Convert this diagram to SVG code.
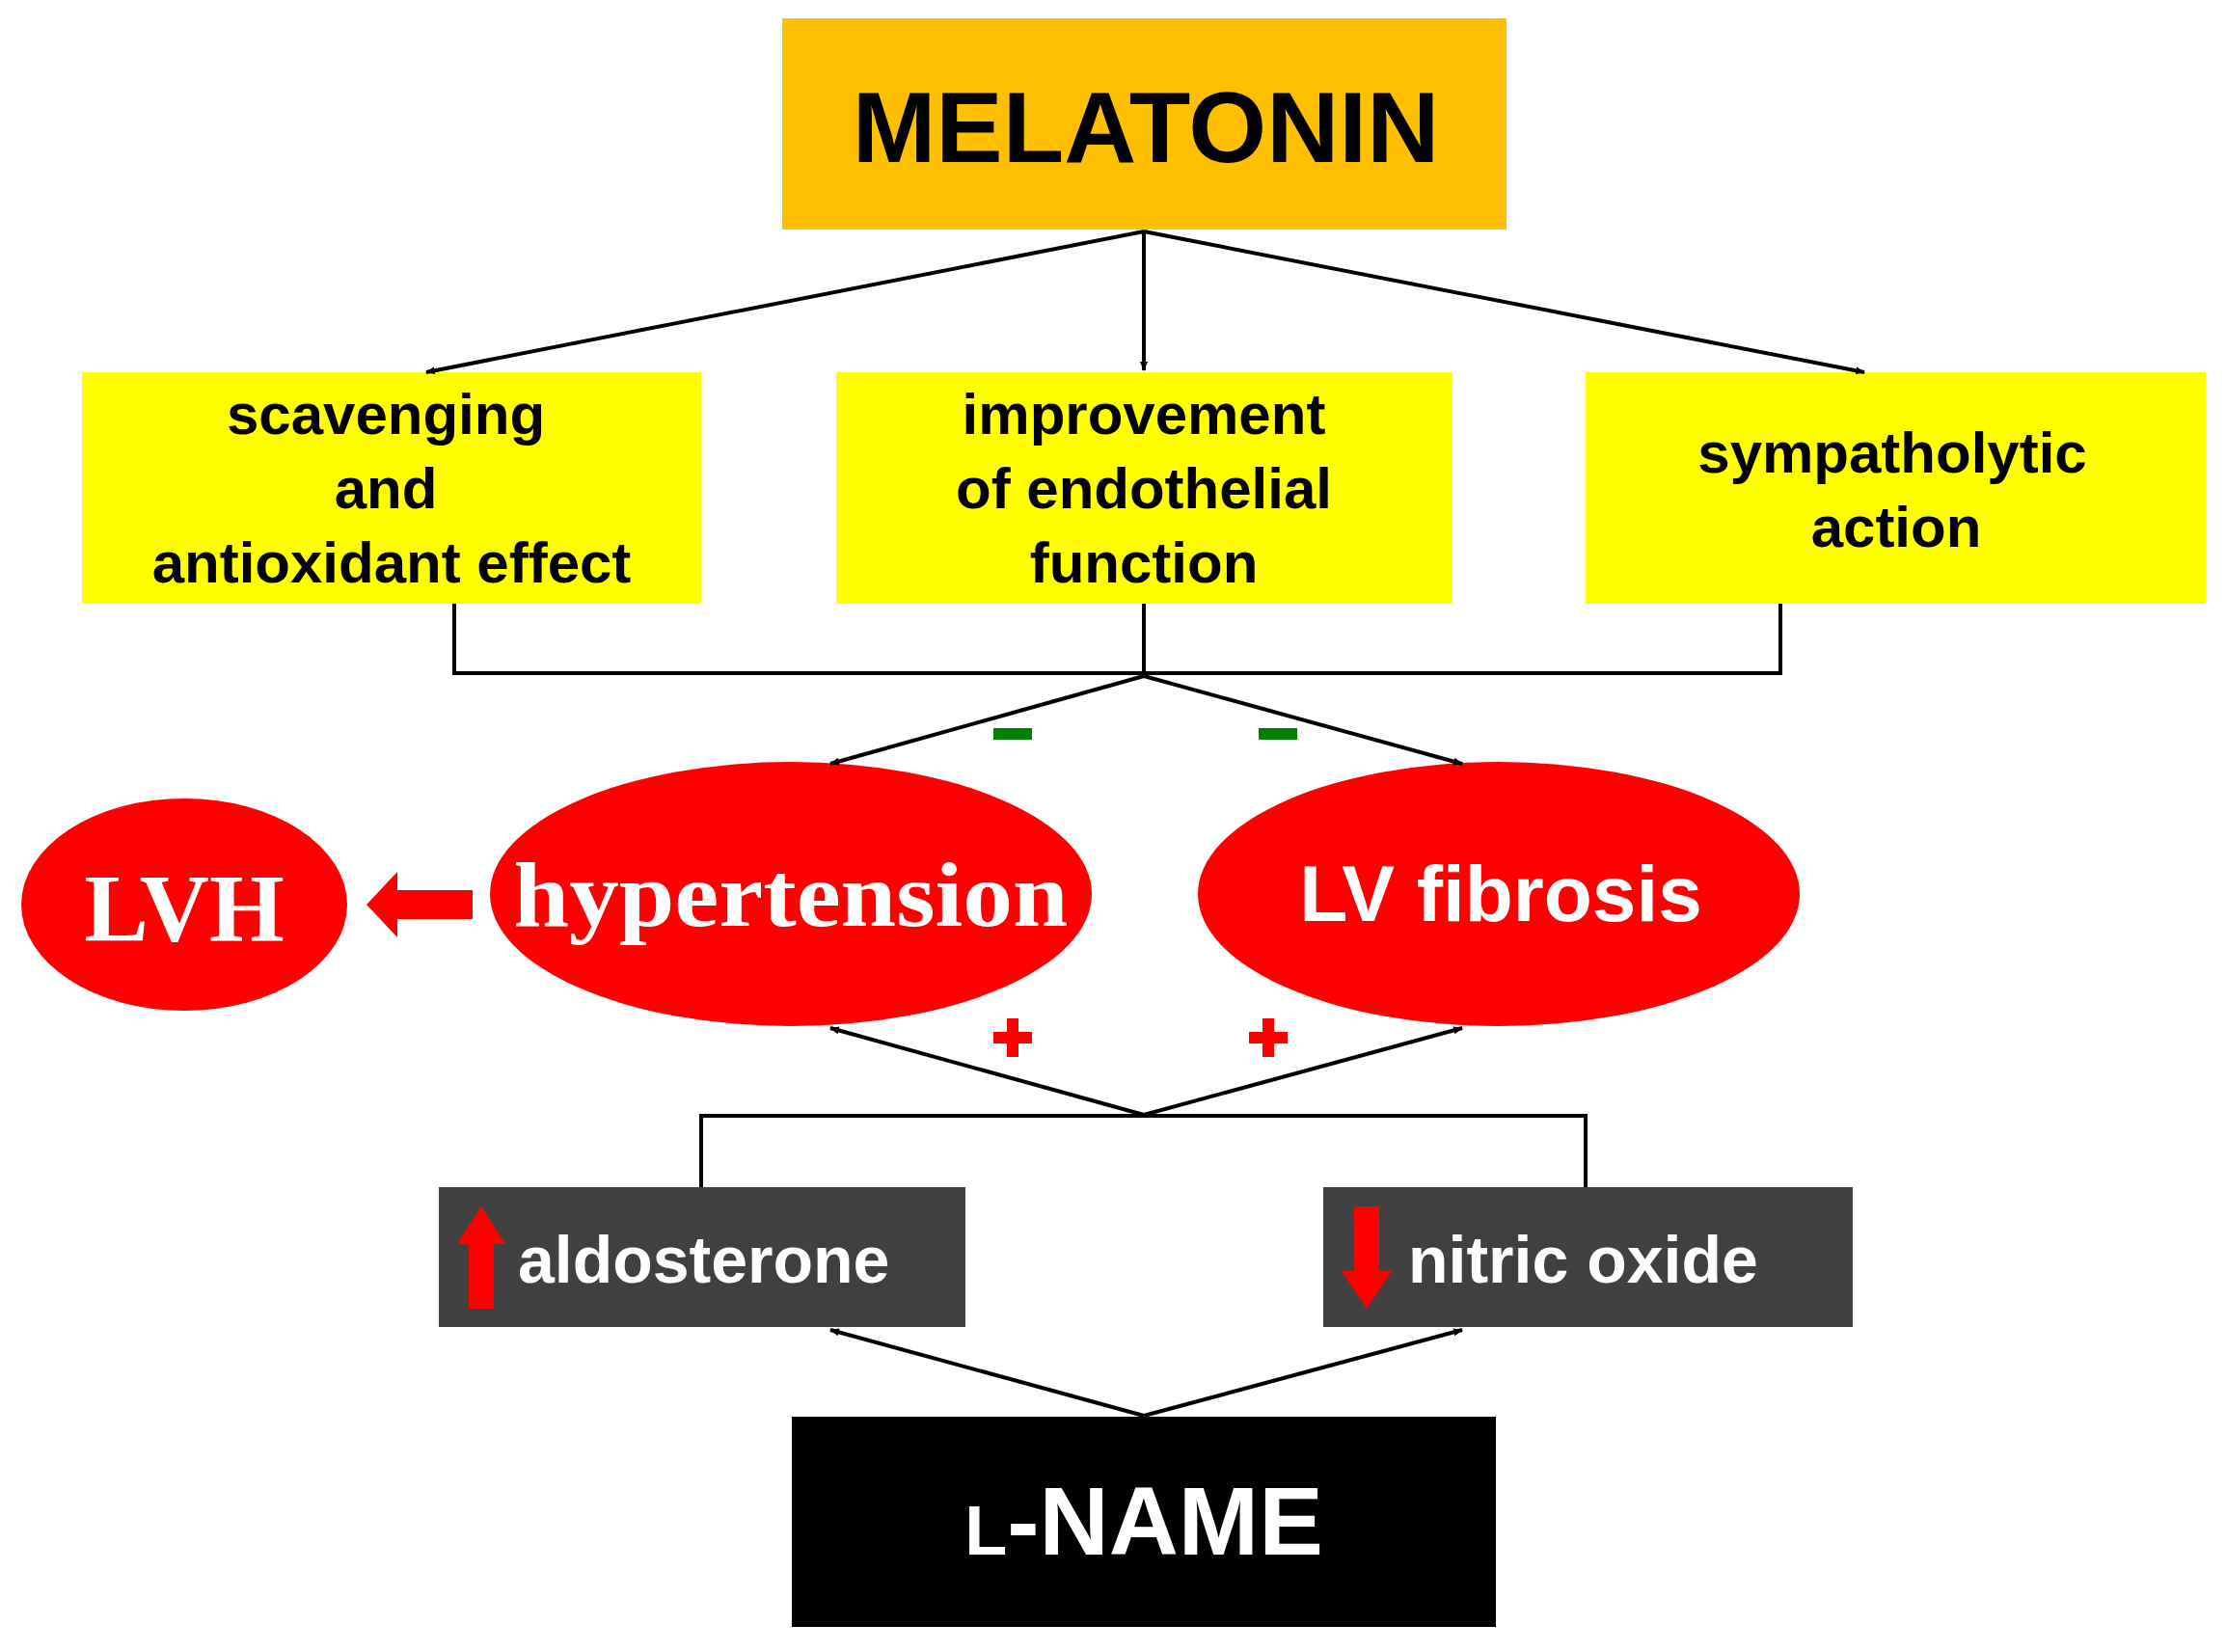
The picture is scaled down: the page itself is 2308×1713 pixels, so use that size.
<svg xmlns="http://www.w3.org/2000/svg" width="2308" height="1713" viewBox="0 0 2308 1713">
<style>
.ln{stroke:#000;stroke-width:4;fill:none}
.y{fill:#ffff00}
.t{font-family:"Liberation Sans",Arial,sans-serif;font-weight:bold;text-anchor:middle}
.bt{font-size:60px;fill:#000}
.ser{font-family:"Liberation Serif","Times New Roman",serif;font-weight:bold;fill:#fff;text-anchor:middle}
.gt{font-family:"Liberation Sans",Arial,sans-serif;font-weight:bold;fill:#fff;font-size:68px}
</style>
<defs>
<marker id="ah" markerWidth="10" markerHeight="8" refX="9" refY="4" orient="auto" markerUnits="userSpaceOnUse"><path d="M0,0L10,4L0,8z" fill="#000"/></marker>
<marker id="ah2" markerWidth="14" markerHeight="12" refX="13" refY="6" orient="auto" markerUnits="userSpaceOnUse"><path d="M0,0L14,6L0,12z" fill="#000"/></marker>
</defs>
<rect width="2308" height="1713" fill="#fff"/>
<g id="melatonin"><rect x="811" y="19" width="751" height="219" fill="#ffc000"/><text x="1188" y="168" class="t" font-size="104">MELATONIN</text></g>
<g id="scavenging"><rect x="85" y="386" width="642" height="240" class="y"/><text class="t bt" x="400"><tspan x="400" y="450">scavenging</tspan><tspan x="400" y="527">and</tspan><tspan x="406" y="604">antioxidant effect</tspan></text></g>
<g id="endothelial"><rect x="867" y="386" width="639" height="240" class="y"/><text class="t bt"><tspan x="1186" y="450">improvement</tspan><tspan x="1186" y="527">of endothelial</tspan><tspan x="1186" y="604">function</tspan></text></g>
<g id="sympatholytic"><rect x="1644" y="386" width="643" height="240" class="y"/><text class="t bt"><tspan x="1962" y="490">sympatholytic</tspan><tspan x="1966" y="567">action</tspan></text></g>
<g id="lvh"><ellipse cx="191" cy="938" rx="169" ry="110" fill="#ff0000"/><text x="191" y="975" class="ser" font-size="100">LVH</text></g>
<g id="hypertension"><ellipse cx="820" cy="927" rx="312" ry="137" fill="#ff0000"/><text x="820" y="960" class="ser" font-size="96" textLength="575" lengthAdjust="spacingAndGlyphs">hypertension</text></g>
<g id="lvfibrosis"><ellipse cx="1554" cy="927" rx="312" ry="137" fill="#ff0000"/><text x="1556" y="955" class="t" fill="#fff" font-size="82">LV fibrosis</text></g>
<g id="aldosterone"><rect x="455" y="1231" width="546" height="145" fill="#404040"/><path d="M486,1357V1290H474L499,1251L524,1290H512V1357z" fill="#ff0000"/><text x="537" y="1330" class="gt">aldosterone</text></g>
<g id="nitricoxide"><rect x="1372" y="1231" width="549" height="145" fill="#404040"/><path d="M1404,1251H1430V1318H1443L1417,1357L1391,1318H1404z" fill="#ff0000"/><text x="1460" y="1330" class="gt">nitric oxide</text></g>
<g id="lname"><rect x="821" y="1469" width="730" height="218" fill="#000"/><text x="1186" y="1612" class="t" fill="#fff" font-size="100"><tspan font-size="72">L</tspan>-NAME</text></g>
<g id="connectors">
<line x1="1186" y1="240" x2="442" y2="386" class="ln" marker-end="url(#ah)"/>
<line x1="1186" y1="240" x2="1186" y2="384" class="ln" marker-end="url(#ah)"/>
<line x1="1186" y1="240" x2="1933" y2="386" class="ln" marker-end="url(#ah)"/>
<path d="M471,626V698H1846V626M1186,626V698" class="ln"/>
<line x1="1186" y1="701" x2="861" y2="792" class="ln" marker-end="url(#ah)"/>
<line x1="1186" y1="701" x2="1516" y2="792" class="ln" marker-end="url(#ah)"/>
<rect x="1030" y="755" width="40" height="12" fill="#008000"/>
<rect x="1305" y="755" width="40" height="12" fill="#008000"/>
<path d="M490,923H412V904L380,938L412,972V953H490z" fill="#ff0000"/>
<line x1="1186" y1="1156" x2="861" y2="1066" class="ln" marker-end="url(#ah)"/>
<line x1="1186" y1="1156" x2="1516" y2="1066" class="ln" marker-end="url(#ah)"/>
<path d="M1044,1056h12v14h14v12h-14v14h-12v-14h-14v-12h14z" fill="#ff0000"/>
<path d="M1309,1056h12v14h14v12h-14v14h-12v-14h-14v-12h14z" fill="#ff0000"/>
<path d="M727,1231V1157H1644V1231" class="ln"/>
<line x1="1186" y1="1468" x2="861" y2="1379" class="ln" marker-end="url(#ah)"/>
<line x1="1186" y1="1468" x2="1516" y2="1379" class="ln" marker-end="url(#ah)"/>
</g>
</svg>
